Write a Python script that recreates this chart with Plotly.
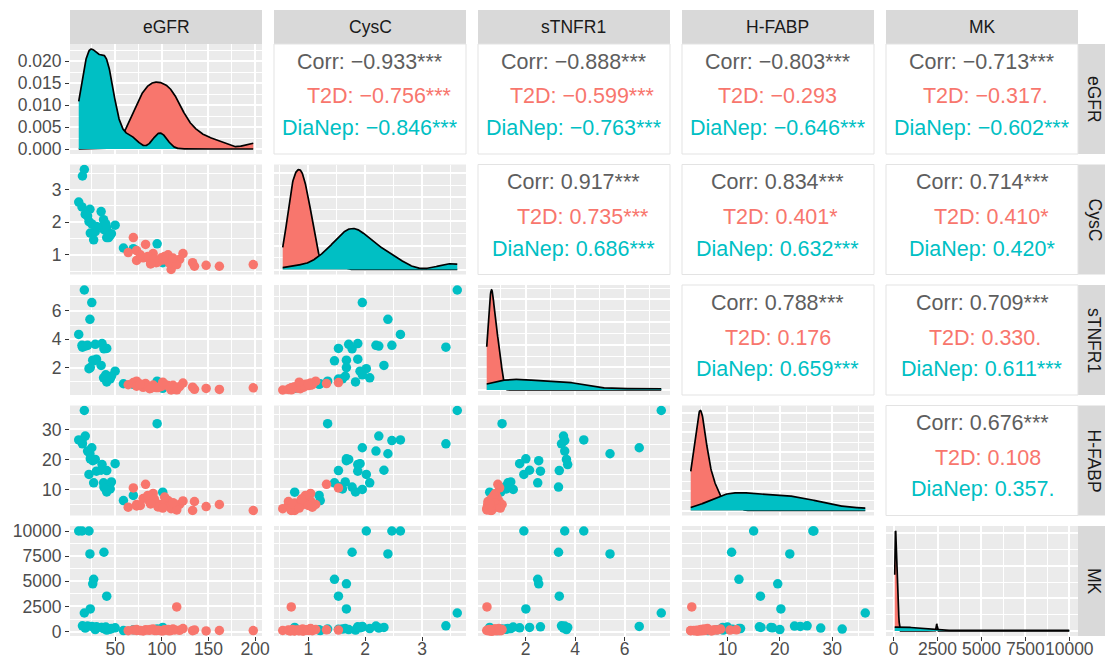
import numpy as np
import plotly.graph_objects as go

# ---------------- data ----------------
VARS = ["eGFR", "CysC", "sTNFR1", "H-FABP", "MK"]
GROUPS = ["T2D", "DiaNep"]
COLORS = {"T2D": "#F8766D", "DiaNep": "#00BFC4"}

# T2D group
t2d_egfr = [69.5, 64, 73, 73, 82.6, 80, 87, 90.7, 94, 99.6, 106.7, 110, 114, 119, 122.7,
            133, 135, 147.5, 161.7, 198, 103, 108, 85, 116, 92, 112, 77, 96, 88, 101]
t2d_cysc = [1.53, 1.07, 1.13, 0.83, 1.32, 0.91, 0.86, 1.04, 0.76, 0.91, 1.00, 0.55, 0.81, 0.86, 1.04,
            0.76, 0.65, 0.68, 0.65, 0.70, 0.95, 0.75, 0.95, 0.70, 0.88, 0.90, 1.00, 0.78, 0.72, 0.84]
t2d_stnfr1 = [0.95, 0.80, 1.05, 0.70, 0.88, 0.62, 0.52, 0.78, 0.60, 0.68, 0.74, 0.43, 0.56, 0.66, 0.92,
              0.63, 0.48, 0.54, 0.47, 0.58, 0.84, 0.65, 0.72, 0.44, 0.67, 0.76, 0.86, 0.60, 0.55, 0.98]
t2d_hfabp = [10.5, 4.1, 5.0, 4.5, 11.7, 7.0, 5.8, 8.7, 5.5, 5.0, 6.3, 3.6, 4.8, 5.0, 6.2,
             3.0, 6.0, 4.3, 5.0, 3.0, 7.5, 4.4, 8.0, 3.2, 6.8, 5.6, 4.7, 4.2, 5.2, 3.8]
t2d_mk = [150, 90, 200, 120, 180, 60, 140, 250, 100, 80, 220, 110, 160, 130, 300,
          90, 170, 70, 110, 100, 190, 80, 150, 2450, 120, 260, 100, 140, 200, 75]

# DiaNep group
dn_egfr = [17, 15, 11, 23, 25, 14.5, 22, 38, 27, 26, 41, 23.4, 95, 101, 18, 37.6, 36, 28.7,
           30, 41, 44.7, 50, 58.9, 69.5, 35, 20.5, 43, 46, 40]
dn_cysc = [3.62, 3.42, 2.62, 2.40, 1.95, 2.47, 2.02, 1.77, 1.46, 1.67, 1.53, 1.67, 1.34, 0.76, 2.24,
           2.08, 1.87, 1.71, 1.87, 1.83, 1.60, 1.91, 1.21, 1.19, 2.33, 2.19, 1.53, 1.65, 1.95]
dn_stnfr1 = [7.48, 3.45, 4.35, 5.41, 6.59, 3.58, 1.93, 3.33, 2.49, 2.53, 3.36, 2.01, 1.05, 0.55, 3.53,
             1.29, 3.70, 3.65, 2.60, 1.00, 1.22, 1.76, 0.87, 0.83, 2.16, 3.58, 1.20, 1.40, 1.50]
dn_hfabp = [36.3, 25.2, 26.5, 21.9, 23.9, 26.3, 15.0, 10.8, 12.2, 19.6, 16.3, 20.2, 31.9, 9.1, 27.8,
            12.2, 18.3, 20.0, 16.1, 9.2, 10.2, 18.6, 6.3, 8.0, 16.4, 22.8, 11.0, 12.5, 10.0]
dn_mk = [1850, 570, 10000, 7716, 510, 10000, 10000, 7887, 5200, 4750, 3520, 2250, 250, 420, 350,
         300, 420, 200, 480, 150, 250, 380, 100, 180, 420, 550, 230, 300, 450]

# tick labels
egfr_ticks = [50, 100, 150, 200]
cysc_ticks = [1, 2, 3]
stnfr1_ticks = [2, 4, 6]
hfabp_ticks = [10, 20, 30]
mk_ticks = [0, 2500, 5000, 7500, 10000]

# correlation texts (upper panels), order: (row, col) pairs
cor_pairs = [(0, 1), (0, 2), (0, 3), (0, 4), (1, 2), (1, 3), (1, 4), (2, 3), (2, 4), (3, 4)]
cor_all = ["−0.933***", "−0.888***", "−0.803***", "−0.713***", "0.917***", "0.834***", "0.714***",
           "0.788***", "0.709***", "0.676***"]
cor_t2d = ["−0.756***", "−0.599***", "−0.293", "−0.317.", "0.735***", "0.401*", "0.410*",
           "0.176", "0.330.", "0.108"]
cor_dn = ["−0.846***", "−0.763***", "−0.646***", "−0.602***", "0.686***", "0.632***", "0.420*",
          "0.659***", "0.611***", "0.357."]

# ---------------- helpers ----------------
DATA = {
    "T2D": [t2d_egfr, t2d_cysc, t2d_stnfr1, t2d_hfabp, t2d_mk],
    "DiaNep": [dn_egfr, dn_cysc, dn_stnfr1, dn_hfabp, dn_mk],
}
TICKS = [egfr_ticks, cysc_ticks, stnfr1_ticks, hfabp_ticks, mk_ticks]

W, H = 1105, 659
FONT = "Liberation Sans, Arial, Helvetica, sans-serif"
PX0, PW, PSTEP = 70, 192, 204
PY0, PH, PYSTEP = 44, 110, 120.5


def xdom(c):
    a = PX0 + PSTEP * c
    return [a / W, (a + PW) / W]


def ydom(r):
    t = PY0 + PYSTEP * r
    return [1 - (t + PH) / H, 1 - t / H]


def px2x(p):
    return p / W


def py2y(p):
    return 1 - p / H


def kde(vals, grid):
    v = np.asarray(vals, float)
    n = len(v)
    sd = v.std(ddof=1)
    q75, q25 = np.percentile(v, [75, 25])
    iqr = q75 - q25
    lo = min(sd, iqr / 1.34) if iqr > 0 else sd
    bw = 0.9 * lo * n ** -0.2
    z = (grid[:, None] - v[None, :]) / bw
    return np.exp(-0.5 * z ** 2).sum(1) / (n * bw * np.sqrt(2 * np.pi))


def pretty_step(span, n=5):
    raw = span / n
    mag = 10 ** np.floor(np.log10(raw))
    for m in [1, 2, 2.5, 5, 10]:
        if m * mag >= raw * 0.9:
            return m * mag
    return 10 * mag


def minor_vals(major, lo, hi):
    step = major[1] - major[0]
    vals = [major[0] - step / 2] + [m + step / 2 for m in major]
    return [v for v in vals if lo <= v <= hi]


ranges = []
for i in range(5):
    allv = np.array(DATA["T2D"][i] + DATA["DiaNep"][i], float)
    lo, hi = allv.min(), allv.max()
    e = 0.05 * (hi - lo)
    ranges.append([lo - e, hi + e])

fig = go.Figure()
layout = {}
tickfont = dict(family=FONT, size=17.5, color="#4D4D4D")

k = 0
for r in range(5):
    for c in range(r + 1):
        k += 1
        xs = "x" if k == 1 else f"x{k}"
        ys = "y" if k == 1 else f"y{k}"
        xkey = "xaxis" if k == 1 else f"xaxis{k}"
        ykey = "yaxis" if k == 1 else f"yaxis{k}"

        xr = ranges[c]
        xt = TICKS[c]
        layout[xkey] = dict(
            domain=xdom(c), anchor=ys, range=xr, zeroline=False, showline=False,
            automargin=False,
            showgrid=True, gridcolor="white", gridwidth=1.6,
            tickmode="array", tickvals=xt, ticktext=[str(t) for t in xt],
            minor=dict(tickmode="array", tickvals=minor_vals(xt, xr[0], xr[1]),
                       showgrid=True, gridcolor="white", gridwidth=0.7, ticks=""),
            showticklabels=(r == 4), ticks="outside" if r == 4 else "",
            ticklen=4, tickwidth=1.1, tickcolor="#333333", tickangle=0,
            ticklabelstandoff=-7,
            tickfont=tickfont, fixedrange=True,
        )

        if r == c:
            allv = DATA["T2D"][c] + DATA["DiaNep"][c]
            grid = np.linspace(min(allv), max(allv), 512)
            dens = {g: kde(DATA[g][c], grid) for g in GROUPS}
            dmax = max(d.max() for d in dens.values())
            yr = [-0.05 * dmax, 1.05 * dmax]
            step = pretty_step(dmax)
            yt = list(np.arange(0, dmax + 1e-12, step))
            ytext = [f"{v:.3f}" for v in yt]
            for g in GROUPS:
                fig.add_trace(go.Scatter(
                    x=grid, y=dens[g], xaxis=xs, yaxis=ys, mode="lines",
                    fill="tozeroy", fillcolor=COLORS[g],
                    line=dict(color="black", width=1.7), hoverinfo="skip", showlegend=False))
        else:
            yr = ranges[r]
            yt = TICKS[r]
            ytext = [str(t) for t in yt]
            for g in ["DiaNep", "T2D"]:
                fig.add_trace(go.Scatter(
                    x=DATA[g][c], y=DATA[g][r], xaxis=xs, yaxis=ys, mode="markers",
                    marker=dict(color=COLORS[g], size=9.5, line=dict(width=0)),
                    hoverinfo="skip", showlegend=False))

        layout[ykey] = dict(
            domain=ydom(r), anchor=xs, range=yr, zeroline=False, showline=False,
            automargin=False,
            showgrid=True, gridcolor="white", gridwidth=1.6,
            tickmode="array", tickvals=yt, ticktext=ytext,
            minor=dict(tickmode="array", tickvals=minor_vals(yt, yr[0], yr[1]),
                       showgrid=True, gridcolor="white", gridwidth=0.7, ticks=""),
            showticklabels=(c == 0), ticks="outside" if c == 0 else "",
            ticklen=4, tickwidth=1.1, tickcolor="#333333",
            tickfont=tickfont, fixedrange=True,
        )

shapes = []
annotations = []

# strips
for i, v in enumerate(VARS):
    x0, x1 = xdom(i)
    shapes.append(dict(type="rect", xref="paper", yref="paper", x0=x0, x1=x1,
                       y0=py2y(44), y1=py2y(10), fillcolor="#D9D9D9", line=dict(width=0),
                       layer="below"))
    annotations.append(dict(xref="paper", yref="paper", x=(x0 + x1) / 2, y=py2y(27),
                            text=v, showarrow=False, xanchor="center", yanchor="middle",
                            font=dict(family=FONT, size=17.5, color="#1A1A1A")))
    y0, y1 = ydom(i)
    shapes.append(dict(type="rect", xref="paper", yref="paper", x0=px2x(1078), x1=px2x(1112),
                       y0=y0, y1=y1, fillcolor="#D9D9D9", line=dict(width=0), layer="below"))
    annotations.append(dict(xref="paper", yref="paper", x=px2x(1094), y=(y0 + y1) / 2,
                            text=v, showarrow=False, textangle=90, xanchor="center",
                            yanchor="middle",
                            font=dict(family=FONT, size=17.5, color="#1A1A1A")))

# upper correlation panels
NB = "\u00a0"
lab_w = max(len(l) for l in GROUPS)
for i, (r, c) in enumerate(cor_pairs):
    x0, x1 = xdom(c)
    y0, y1 = ydom(r)
    shapes.append(dict(type="rect", xref="paper", yref="paper", x0=x0, x1=x1, y0=y0, y1=y1,
                       fillcolor="white", line=dict(color="#E3E3E3", width=1), layer="below"))
    top = PY0 + PYSTEP * r
    xc = (x0 + x1) / 2
    vw = max(len(cor_t2d[i]), len(cor_dn[i]))
    lines = [
        ("Corr: " + cor_all[i], "#5E5E5E", 17.7),
        (NB * (lab_w - 3) + "T2D: " + cor_t2d[i] + NB * (vw - len(cor_t2d[i])), COLORS["T2D"], 52.5),
        ("DiaNep: " + cor_dn[i] + NB * (vw - len(cor_dn[i])), COLORS["DiaNep"], 84.0),
    ]
    for txt, col, dy in lines:
        annotations.append(dict(xref="paper", yref="paper", x=xc, y=py2y(top + dy),
                                text=txt, showarrow=False, xanchor="center", yanchor="middle",
                                font=dict(family=FONT, size=21.5, color=col)))

fig.update_layout(
    width=W, height=H, autosize=False, margin=dict(l=0, r=0, t=0, b=0, pad=0),
    paper_bgcolor="white", plot_bgcolor="#EBEBEB",
    showlegend=False, shapes=shapes, annotations=annotations,
    font=dict(family=FONT),
    **layout,
)

fig.write_html(
    "out.html",
    config={"displayModeBar": False, "responsive": False},
    post_script=("document.documentElement.style.margin='0px';"
                 "document.documentElement.style.overflow='hidden';"
                 "document.body.style.margin='0px';document.body.style.overflow='hidden';"),
)
